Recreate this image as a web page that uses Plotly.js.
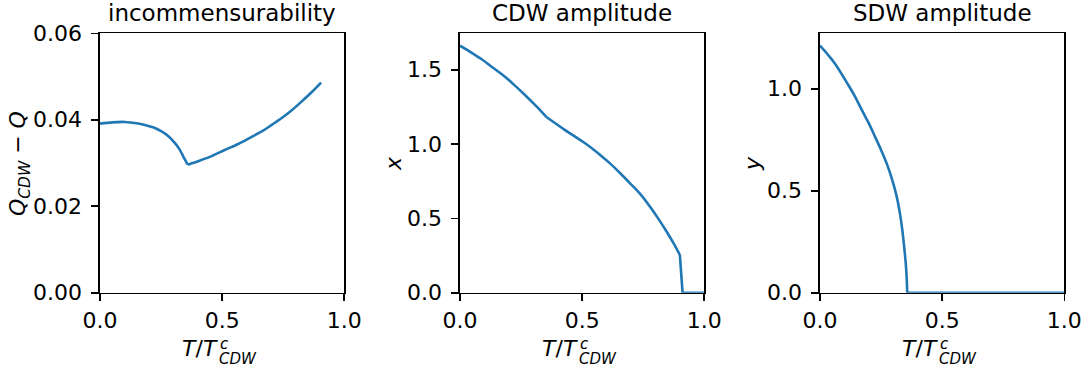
<!DOCTYPE html>
<html>
<head>
<meta charset="utf-8">
<script src="https://cdn.plot.ly/plotly-3.0.1.min.js"></script>
<style>html,body{margin:0;padding:0;background:#fff;}#chart{width:1091px;height:374px;}</style>
</head>
<body>
<div id="chart"></div>
<script>
// Panel titles and axis labels
const panelTitles = ["incommensurability", "CDW amplitude", "SDW amplitude"];
const yLabels = ["<i>Q</i><sub><i>CDW</i></sub> − <i>Q</i>", "<i>x</i>", "<i>y</i>"];

// Panel 1: incommensurability Q_CDW - Q vs T/Tc (two smooth branches meeting at the kink)
const tIncLow = [0.0, 0.05, 0.102, 0.15, 0.184, 0.22, 0.252, 0.28, 0.307, 0.325, 0.341, 0.359];
const qIncLow = [0.0391, 0.0394, 0.0395, 0.0392, 0.0388, 0.0382, 0.0373, 0.0362, 0.0346, 0.0332, 0.0315, 0.0296];
const tIncHigh = [0.359, 0.41, 0.457, 0.51, 0.566, 0.61, 0.662, 0.70, 0.744, 0.785, 0.825, 0.865, 0.905];
const qIncHigh = [0.0296, 0.0306, 0.0316, 0.0330, 0.0344, 0.0357, 0.0373, 0.0387, 0.0404, 0.0422, 0.0442, 0.0463, 0.0486];

// Panel 2: CDW amplitude x
const tCdwLow = [0.0, 0.045, 0.089, 0.135, 0.184, 0.225, 0.266, 0.31, 0.355];
const xCdwLow = [1.662, 1.617, 1.570, 1.513, 1.453, 1.393, 1.330, 1.258, 1.180];
const tCdwHigh = [0.355, 0.43, 0.512, 0.575, 0.614, 0.655, 0.696, 0.74, 0.778, 0.815, 0.846, 0.875, 0.900];
const xCdwHigh = [1.180, 1.094, 1.005, 0.925, 0.870, 0.805, 0.736, 0.660, 0.578, 0.490, 0.410, 0.330, 0.254];
const tCdwTail = [0.900, 0.911, 1.0];
const xCdwTail = [0.254, 0.0, 0.0];

// Panel 3: SDW amplitude y
const tSdw = [0.0, 0.03, 0.061, 0.116, 0.145, 0.171, 0.2, 0.225, 0.25, 0.273, 0.295, 0.314, 0.327, 0.337, 0.345, 0.351, 0.355, 0.357];
const ySdw = [1.211, 1.170, 1.124, 1.018, 0.958, 0.896, 0.830, 0.765, 0.700, 0.634, 0.555, 0.471, 0.390, 0.307, 0.220, 0.144, 0.070, 0.0];
const tSdwTail = [0.357, 1.0];
const ySdwTail = [0.0, 0.0];

const xTickVals = [0, 0.5, 1.0];
const xTickText = ["0.0", "0.5", "1.0"];
const yTickVals = [[0, 0.02, 0.04, 0.06], [0, 0.5, 1.0, 1.5], [0, 0.5, 1.0]];
const yTickText = [["0.00", "0.02", "0.04", "0.06"], ["0.0", "0.5", "1.0", "1.5"], ["0.0", "0.5", "1.0"]];
const yRanges = [[0, 0.06], [0, 1.745], [0, 1.2716]];

const W = 1091, H = 374;
const panelLefts = [100, 460, 820];
const panelW = 244.3;
const panelTop = 33.3, panelBottom = 292.7;
const lineColor = "#1f77b4";

// [panel index, x, y, smooth?]
const pieces = [
  [0, tIncLow, qIncLow, true], [0, tIncHigh, qIncHigh, true],
  [1, tCdwLow, xCdwLow, true], [1, tCdwHigh, xCdwHigh, true], [1, tCdwTail, xCdwTail, false],
  [2, tSdw, ySdw, true], [2, tSdwTail, ySdwTail, false]
];
const traces = pieces.map(p => ({
  x: p[1], y: p[2], type: "scatter", mode: "lines",
  line: {color: lineColor, width: 2.6, shape: p[3] ? "spline" : "linear", smoothing: 0.8},
  xaxis: p[0] === 0 ? "x" : "x" + (p[0] + 1),
  yaxis: p[0] === 0 ? "y" : "y" + (p[0] + 1),
  showlegend: false, hoverinfo: "skip"
}));

const layout = {
  width: W, height: H,
  margin: {l: 0, r: 0, t: 0, b: 0},
  paper_bgcolor: "#fff", plot_bgcolor: "#fff",
  font: {family: "DejaVu Sans", size: 22, color: "#000"},
  showlegend: false,
  annotations: []
};

const labelX = [19, 393, 752];
for (let i = 0; i < 3; i++) {
  const sfx = i === 0 ? "" : String(i + 1);
  layout["xaxis" + sfx] = {
    domain: [panelLefts[i] / W, (panelLefts[i] + panelW) / W],
    range: [0, 1], anchor: "y" + sfx,
    tickvals: xTickVals, ticktext: xTickText,
    ticks: "outside", ticklen: 7, tickwidth: 1.6, tickcolor: "#000",
    showline: true, linecolor: "#000", linewidth: 1.6, mirror: true,
    showgrid: false, zeroline: false,
    tickfont: {size: 22, family: "DejaVu Sans"}
  };
  layout["yaxis" + sfx] = {
    domain: [1 - panelBottom / H, 1 - panelTop / H],
    range: yRanges[i], anchor: "x" + sfx,
    tickvals: yTickVals[i], ticktext: yTickText[i],
    ticks: "outside", ticklen: 7, tickwidth: 1.6, tickcolor: "#000",
    showline: true, linecolor: "#000", linewidth: 1.6, mirror: true,
    showgrid: false, zeroline: false, ticklabelstandoff: 5,
    tickfont: {size: 22, family: "DejaVu Sans"}
  };
  layout.annotations.push({
    text: panelTitles[i], xref: "x" + sfx + " domain", yref: "paper",
    x: 0.5, y: 1 - 13 / H, xanchor: "center", yanchor: "middle",
    showarrow: false, font: {size: 23, family: "DejaVu Sans"}
  });
  layout.annotations.push({
    text: yLabels[i], xref: "paper", yref: "paper",
    x: labelX[i] / W, y: 1 - 164 / H, xanchor: "center", yanchor: "middle",
    textangle: -90, showarrow: false, font: {size: 22, family: "DejaVu Sans"}
  });
  layout.annotations.push({
    text: "<i>T</i>/<i>T</i>", xref: "x" + sfx + " domain", yref: "paper",
    x: 0.493, y: 1 - 348 / H, xanchor: "right", yanchor: "middle",
    showarrow: false, font: {size: 22, family: "DejaVu Sans"}
  });
  layout.annotations.push({
    text: "<i>c</i>", xref: "x" + sfx + " domain", yref: "paper",
    x: 0.482, y: 1 - 344 / H, xanchor: "left", yanchor: "middle",
    showarrow: false, font: {size: 15, family: "DejaVu Sans"}
  });
  layout.annotations.push({
    text: "<i>CDW</i>", xref: "x" + sfx + " domain", yref: "paper",
    x: 0.478, y: 1 - 359 / H, xanchor: "left", yanchor: "middle",
    showarrow: false, font: {size: 15, family: "DejaVu Sans"}
  });
}

Plotly.newPlot("chart", traces, layout, {displayModeBar: false, staticPlot: true});
</script>
</body>
</html>
